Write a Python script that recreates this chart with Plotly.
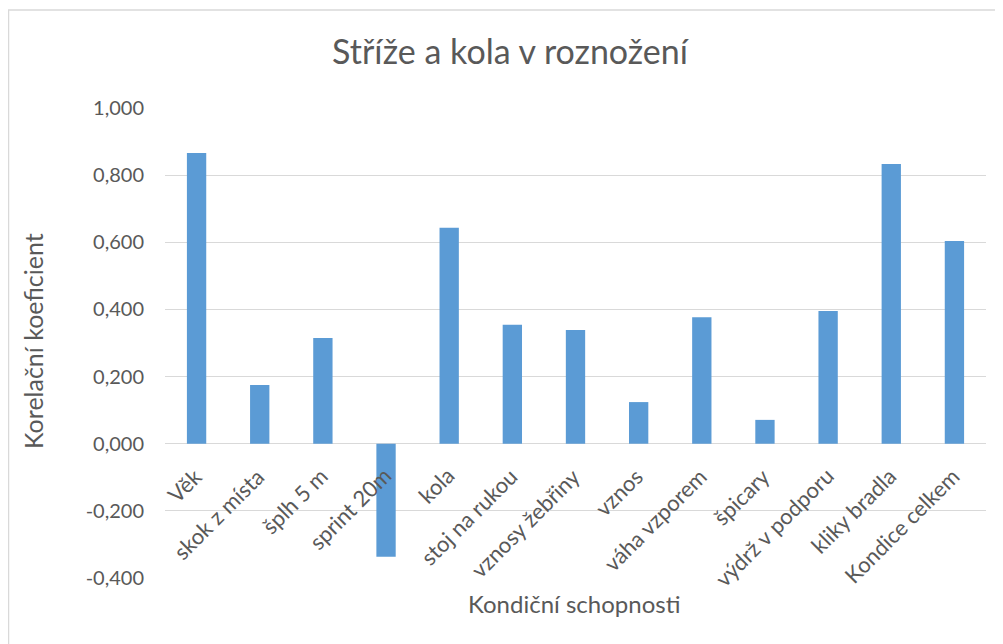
import plotly.graph_objects as go

categories = ["Věk", "skok z místa", "šplh 5 m", "sprint 20m", "kola", "stoj na rukou",
              "vznosy žebřiny", "vznos", "váha vzporem", "špicary", "výdrž v podporu",
              "kliky bradla", "Kondice celkem"]
values = [0.866, 0.175, 0.315, -0.337, 0.643, 0.354, 0.339, 0.124, 0.377, 0.071, 0.395, 0.833, 0.604]
tick_vals = [-0.4, -0.2, 0.0, 0.2, 0.4, 0.6, 0.8, 1.0]
tick_text = ["-0,400", "-0,200", "0,000", "0,200", "0,400", "0,600", "0,800", "1,000"]

title_text = "Stříže a kola v roznožení"
x_title = "Kondiční schopnosti"
y_title = "Korelační koeficient"

FONT = "Lato, Carlito, Calibri, sans-serif"
TXT = "#595959"
GRID = "#d9d9d9"

# figure is placed at (8,8) in the page by the default body margin
W, H = 995, 636
L, R, T, B = 157, 17, 100, 66
PW, PH = W - L - R, H - T - B


def px(x):
    return (x - L) / PW


def py(y):
    return (H - B - y) / PH


fig = go.Figure(go.Bar(x=categories, y=values, marker=dict(color="#5b9bd5", line=dict(width=0)),
                       width=0.306))

# category labels sit along the zero line, rotated
cat_labels = [dict(text=c, xref="x", yref="y", x=c, y=0, xanchor="right", yanchor="top",
                   textangle=-45, showarrow=False, xshift=13, yshift=-16,
                   font=dict(size=22, color=TXT)) for c in categories]

ymin, ymax = -0.4, 1.0
fig.update_layout(
    width=W, height=H,
    margin=dict(l=L, r=R, t=T, b=B, autoexpand=False),
    paper_bgcolor="white", plot_bgcolor="white",
    font=dict(family=FONT, color=TXT),
    title=dict(text=title_text, x=502 / W, y=1 - 44 / H, xref="container", yref="container",
               xanchor="center", yanchor="middle", font=dict(size=34, color=TXT, family=FONT)),
    showlegend=False,
    xaxis=dict(range=[-0.5, len(categories) - 0.5], autorange=False, showline=False, ticks="",
               showticklabels=False, showgrid=False),
    yaxis=dict(range=[ymin, ymax], autorange=False, tickvals=tick_vals, ticktext=tick_text,
               showgrid=True, gridcolor=GRID, gridwidth=1, zeroline=True, zerolinecolor=GRID,
               zerolinewidth=1, showline=False, ticks="", tickfont=dict(size=20, color=TXT),
               ticklabelstandoff=20),
    annotations=cat_labels + [
        dict(text=x_title, xref="paper", yref="paper", x=px(566), y=py(595),
             xanchor="center", yanchor="middle", showarrow=False, font=dict(size=24, color=TXT)),
        dict(text=y_title, xref="paper", yref="paper", x=px(25), y=py(333),
             xanchor="center", yanchor="middle", textangle=-90, showarrow=False,
             font=dict(size=25, color=TXT)),
    ],
    shapes=[dict(type="rect", xref="paper", yref="paper", x0=px(0.5), y0=-0.4,
                 x1=1.2, y1=py(2), line=dict(color=GRID, width=1.5), layer="below")],
)

fig.write_html("out.html")
